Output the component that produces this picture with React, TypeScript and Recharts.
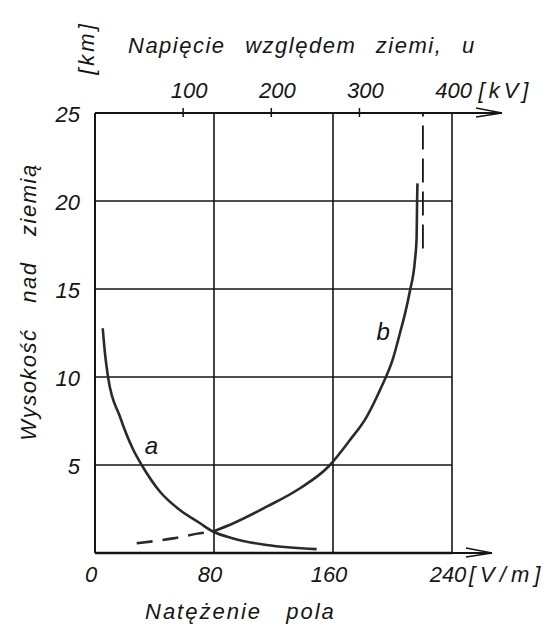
import React from "react";
import {
  LineChart,
  Line,
  XAxis,
  YAxis,
  CartesianGrid,
  ReferenceDot,
} from "recharts";

// curve a: field strength [V/m] vs height [km]
const fieldE = [5.2, 6.7, 8.9, 16.8, 25.8, 31.4, 43.7, 57.1, 70.6, 78.6, 92.9, 115.4, 149];
const heightA = [12.77, 11.35, 9.93, 7.74, 5.85, 5.0, 3.48, 2.44, 1.69, 1.25, 0.83, 0.45, 0.22];

// curve b: voltage to earth [kV] vs height [km], dashed near the ground
const voltDashed = [47.3, 88.8, 119, 133.5];
const heightDashed = [0.55, 0.83, 1.12, 1.21];
const voltSolid = [133.5, 157, 194.8, 232.6, 264.7, 289.3, 308.2, 323.3, 338.4, 346, 351.7, 357.3, 363, 364.9, 365.4, 365.8];
const heightSolid = [1.21, 1.69, 2.63, 3.68, 4.9, 6.42, 7.74, 9.26, 11.1, 12.5, 13.6, 14.9, 16.65, 17.97, 19.96, 21.0];

// asymptote of curve b
const limitVolt = [372, 372];
const limitHeight = [17.3, 25];

const bottomTicks = [0, 80, 160, 240];
const topTicks = [100, 200, 300, 400];
const heightTicks = [5, 10, 15, 20, 25];

const curveA = fieldE.map((E, i) => ({ E, h: heightA[i] }));
const curveBDashed = voltDashed.map((u, i) => ({ u, h: heightDashed[i] }));
const curveBSolid = voltSolid.map((u, i) => ({ u, h: heightSolid[i] }));
const limitLine = limitVolt.map((u, i) => ({ u, h: limitHeight[i] }));

const ink = "#151515";
const font = {
  fontFamily: "'Liberation Sans', Arial, sans-serif",
  fontStyle: "italic" as const,
  fontSize: 22,
  fill: ink,
};

function BottomTick({ x, y, payload }: any) {
  return (
    <g>
      <text x={x - 4} y={y + 21} textAnchor="middle" dominantBaseline="central" style={font}>
        {payload.value}
      </text>
      {payload.value === 240 && (
        <text x={x + 17} y={y + 21} dominantBaseline="central" style={{ ...font, letterSpacing: 5 }}>
          [V/m]
        </text>
      )}
    </g>
  );
}

function TopTick({ x, y, payload }: any) {
  return (
    <g>
      {payload.value < 400 && <line x1={x} x2={x} y1={y - 5} y2={y + 4} stroke={ink} strokeWidth={1.5} />}
      <text x={x + 6} y={y - 23} textAnchor="middle" dominantBaseline="central" style={font}>
        {payload.value}
      </text>
      {payload.value === 400 && (
        <text x={x + 31} y={y - 23} dominantBaseline="central" style={{ ...font, letterSpacing: 4 }}>
          [kV]
        </text>
      )}
    </g>
  );
}

function LeftTick({ x, y, payload }: any) {
  return (
    <text x={x - 15} y={y + 1} textAnchor="end" dominantBaseline="central" style={font}>
      {payload.value}
    </text>
  );
}

function Arrow({ from, tip, y }: { from: number; tip: number; y: number }) {
  return (
    <g stroke={ink} fill="none" strokeWidth={2}>
      <line x1={from} x2={tip} y1={y} y2={y} />
      <path d={`M${tip - 26} ${y - 5} L${tip} ${y} L${tip - 26} ${y + 4}`} strokeWidth={1.5} />
    </g>
  );
}

function TopDecor(props: any) {
  const vb = props.viewBox || { x: 95, y: 0, width: 357, height: 113 };
  const axisY = vb.y + vb.height;
  const right = vb.x + vb.width;
  return (
    <g>
      <Arrow from={right} tip={right + 50} y={axisY} />
      <text x={vb.x + 33} y={axisY - 60} style={{ ...font, letterSpacing: 1.5, wordSpacing: 12 }}>
        Napięcie względem ziemi, u
      </text>
    </g>
  );
}

function BottomDecor(props: any) {
  const vb = props.viewBox || { x: 95, y: 553, width: 357, height: 73 };
  const right = vb.x + vb.width;
  return (
    <g>
      <Arrow from={right} tip={right + 40} y={vb.y} />
      <text x={vb.x + 50} y={vb.y + 66} style={{ ...font, letterSpacing: 2, wordSpacing: 16 }}>
        Natężenie pola
      </text>
    </g>
  );
}

function LeftDecor(props: any) {
  const vb = props.viewBox || { x: 0, y: 113, width: 95, height: 440 };
  const cx = vb.x + 28;
  const cy = vb.y + 189;
  const kx = vb.x + 86;
  const ky = vb.y - 65;
  return (
    <g>
      <text
        x={cx}
        y={cy}
        textAnchor="middle"
        dominantBaseline="central"
        transform={`rotate(-90 ${cx} ${cy})`}
        style={{ ...font, letterSpacing: 1.5, wordSpacing: 18 }}
      >
        Wysokość nad ziemią
      </text>
      <text
        x={kx}
        y={ky}
        textAnchor="middle"
        dominantBaseline="central"
        transform={`rotate(-90 ${kx} ${ky})`}
        style={{ ...font, letterSpacing: 3 }}
      >
        [km]
      </text>
    </g>
  );
}

const curveLabel = (text: string) => (props: any) => {
  const vb = props.viewBox || {};
  return (
    <text x={vb.cx ?? vb.x} y={vb.cy ?? vb.y} textAnchor="middle" dominantBaseline="central" style={{ ...font, fontSize: 24 }}>
      {text}
    </text>
  );
};

export default function App() {
  return (
    <div style={{ position: "absolute", left: 0, top: 0, width: 559, height: 626, background: "#fff" }}>
      <LineChart width={559} height={626} margin={{ top: 0, right: 107, bottom: 0, left: 0 }}>
        <CartesianGrid xAxisId="bottom" stroke={ink} strokeWidth={1.6} />
        <XAxis
          xAxisId="bottom"
          orientation="bottom"
          type="number"
          dataKey="E"
          domain={[0, 240]}
          ticks={bottomTicks}
          allowDataOverflow
          height={73}
          axisLine={{ stroke: ink, strokeWidth: 2.5 }}
          tickLine={false}
          tickSize={0}
          tickMargin={0}
          tick={BottomTick}
          interval={0}
          label={{ content: BottomDecor }}
        />
        <XAxis
          xAxisId="top"
          orientation="top"
          type="number"
          dataKey="u"
          domain={[0, 405]}
          ticks={topTicks}
          allowDataOverflow
          height={113}
          axisLine={{ stroke: ink, strokeWidth: 2 }}
          tickLine={false}
          tickSize={0}
          tickMargin={0}
          tick={TopTick}
          interval={0}
          label={{ content: TopDecor }}
        />
        <YAxis
          type="number"
          domain={[0, 25]}
          ticks={heightTicks}
          allowDataOverflow
          width={95}
          axisLine={{ stroke: ink, strokeWidth: 2 }}
          tickLine={false}
          tickSize={0}
          tickMargin={0}
          tick={LeftTick}
          interval={0}
          label={{ content: LeftDecor }}
        />
        <Line
          xAxisId="bottom"
          data={curveA}
          dataKey="h"
          type="monotone"
          stroke="#2a2a2a"
          strokeWidth={2.6}
          dot={false}
          isAnimationActive={false}
        />
        <Line
          xAxisId="top"
          data={curveBDashed}
          dataKey="h"
          type="monotone"
          stroke="#2a2a2a"
          strokeWidth={2.6}
          strokeDasharray="16 10"
          dot={false}
          isAnimationActive={false}
        />
        <Line
          xAxisId="top"
          data={curveBSolid}
          dataKey="h"
          type="monotone"
          stroke="#2a2a2a"
          strokeWidth={2.6}
          dot={false}
          isAnimationActive={false}
        />
        <Line
          xAxisId="top"
          data={limitLine}
          dataKey="h"
          type="linear"
          stroke={ink}
          strokeWidth={1.8}
          strokeDasharray="24 9"
          dot={false}
          isAnimationActive={false}
        />
        <ReferenceDot xAxisId="bottom" x={38} y={6.1} r={0} fill="none" stroke="none" label={{ content: curveLabel("a") }} />
        <ReferenceDot xAxisId="top" x={327} y={12.6} r={0} fill="none" stroke="none" label={{ content: curveLabel("b") }} />
      </LineChart>
    </div>
  );
}
